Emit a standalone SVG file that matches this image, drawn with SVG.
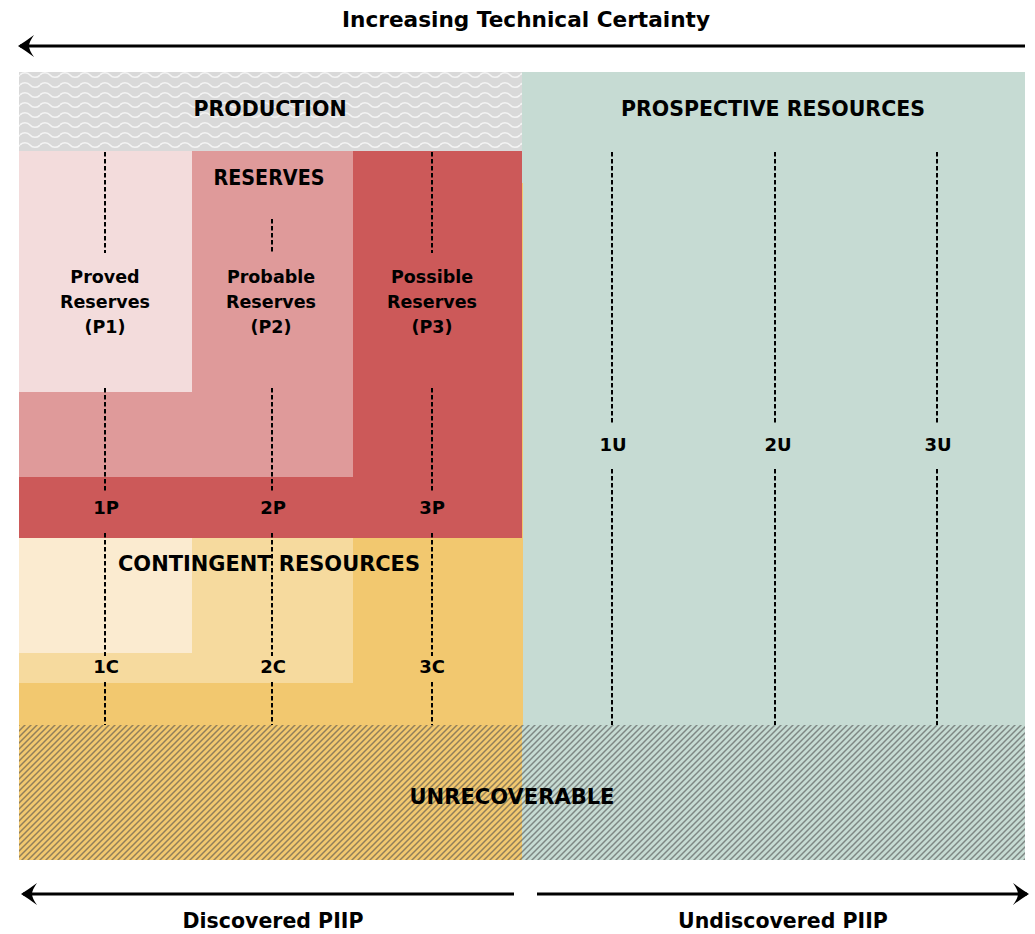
<svg xmlns="http://www.w3.org/2000/svg" width="1035" height="934" viewBox="0 0 1035 934">
<style>
  text { font-family: "DejaVu Sans", "Liberation Sans", sans-serif; font-weight: bold; fill: #000; text-anchor: middle; }
  .hdr { font-size: 20.5px; }
  .lbl { font-size: 17.5px; }
  .num { font-size: 18px; }
  .div { stroke: #000; stroke-width: 2; stroke-dasharray: 4.5 2.5; fill: none; }
  .arr { stroke: #000; stroke-width: 3; fill: none; marker-end: url(#head); }
</style>
<defs>
  <marker id="head" viewBox="0 0 16 22" markerWidth="16" markerHeight="22" refX="14" refY="11" orient="auto" markerUnits="userSpaceOnUse">
    <path d="M16,11 Q8,6 0,0 Q5,7 5,11 Q5,15 0,22 Q8,16 16,11 Z" fill="#000"/>
  </marker>
  <pattern id="wave" patternUnits="userSpaceOnUse" width="20" height="10">
    <rect width="20" height="10" fill="#d9d9d9"/>
    <path d="M0,5 C2.5,2 7.5,2 10,5 C12.5,8 17.5,8 20,5" stroke="#f4f4f4" stroke-width="1.6" fill="none"/>
  </pattern>
  <pattern id="hatch" patternUnits="userSpaceOnUse" width="6" height="6">
    <path d="M0,6 L6,0 M-1.5,1.5 L1.5,-1.5 M4.5,7.5 L7.5,4.5" stroke="#4a4a4a" stroke-width="1.5" stroke-opacity="0.58"/>
  </pattern>
</defs>
<rect width="1035" height="934" fill="#ffffff"/>

<g id="prospective">
  <rect x="522" y="72" width="503" height="788" fill="#c6dbd3"/>
  <text class="hdr" x="773" y="116">PROSPECTIVE RESOURCES</text>
</g>

<g id="production">
  <rect x="19" y="72" width="503" height="79" fill="url(#wave)"/>
  <text class="hdr" x="270" y="116">PRODUCTION</text>
</g>

<g id="contingent">
  <rect x="19" y="183" width="504" height="542" fill="#f2c86f"/>
  <rect x="19" y="538" width="334" height="145" fill="#f6da9e"/>
  <rect x="19" y="538" width="173" height="115" fill="#fbebd0"/>
</g>

<g id="reserves">
  <rect x="19" y="151" width="503" height="387" fill="#cc5959"/>
  <rect x="19" y="151" width="334" height="326" fill="#df9a9a"/>
  <rect x="19" y="151" width="173" height="241" fill="#f3dcdc"/>
</g>

<g id="unrecoverable">
  <rect x="19" y="725" width="503" height="135" fill="#f2c86f"/>
  <rect x="522" y="725" width="503" height="135" fill="#c6dbd3"/>
  <rect x="19" y="725" width="1006" height="135" fill="url(#hatch)"/>
</g>

<g id="dividers">
  <path class="div" d="M105,152 V253 M105,388 V493 M105,533 V656 M105,682 V725"/>
  <path class="div" d="M272,219 V253 M272,388 V493 M272,533 V656 M272,682 V725"/>
  <path class="div" d="M432,152 V253 M432,388 V493 M432,533 V656 M432,682 V725"/>
  <path class="div" d="M612,152 V425 M612,469 V725"/>
  <path class="div" d="M775,152 V425 M775,469 V725"/>
  <path class="div" d="M937,152 V425 M937,469 V725"/>
</g>

<g id="reserves-labels">
  <text class="hdr" x="269" y="185" textLength="111" lengthAdjust="spacingAndGlyphs">RESERVES</text>
  <g id="p1">
    <text class="lbl" x="105" y="283">Proved</text>
    <text class="lbl" x="105" y="308">Reserves</text>
    <text class="lbl" x="105" y="333">(P1)</text>
  </g>
  <g id="p2">
    <text class="lbl" x="271" y="283">Probable</text>
    <text class="lbl" x="271" y="308">Reserves</text>
    <text class="lbl" x="271" y="333">(P2)</text>
  </g>
  <g id="p3">
    <text class="lbl" x="432" y="283">Possible</text>
    <text class="lbl" x="432" y="308">Reserves</text>
    <text class="lbl" x="432" y="333">(P3)</text>
  </g>
  <text class="num" x="106" y="514">1P</text>
  <text class="num" x="273" y="514">2P</text>
  <text class="num" x="432" y="514">3P</text>
</g>

<g id="contingent-labels">
  <text class="hdr" x="269" y="571" textLength="302" lengthAdjust="spacingAndGlyphs">CONTINGENT RESOURCES</text>
  <text class="num" x="106" y="673">1C</text>
  <text class="num" x="273" y="673">2C</text>
  <text class="num" x="432" y="673">3C</text>
</g>

<g id="prospective-labels">
  <text class="num" x="613" y="451">1U</text>
  <text class="num" x="778" y="451">2U</text>
  <text class="num" x="938" y="451">3U</text>
</g>

<g id="unrecoverable-label">
  <text class="hdr" x="512" y="804" textLength="205" lengthAdjust="spacingAndGlyphs">UNRECOVERABLE</text>
</g>

<g id="connectors">
  <line class="arr" x1="1025" y1="46" x2="20" y2="46"/>
  <line class="arr" x1="514" y1="894" x2="23" y2="894"/>
  <line class="arr" x1="537" y1="894" x2="1027" y2="894"/>
</g>

<g id="axis-labels">
  <text class="hdr" x="526" y="27" textLength="368" lengthAdjust="spacingAndGlyphs">Increasing Technical Certainty</text>
  <text class="hdr" x="273" y="928">Discovered PIIP</text>
  <text class="hdr" x="783" y="928">Undiscovered PIIP</text>
</g>
</svg>
